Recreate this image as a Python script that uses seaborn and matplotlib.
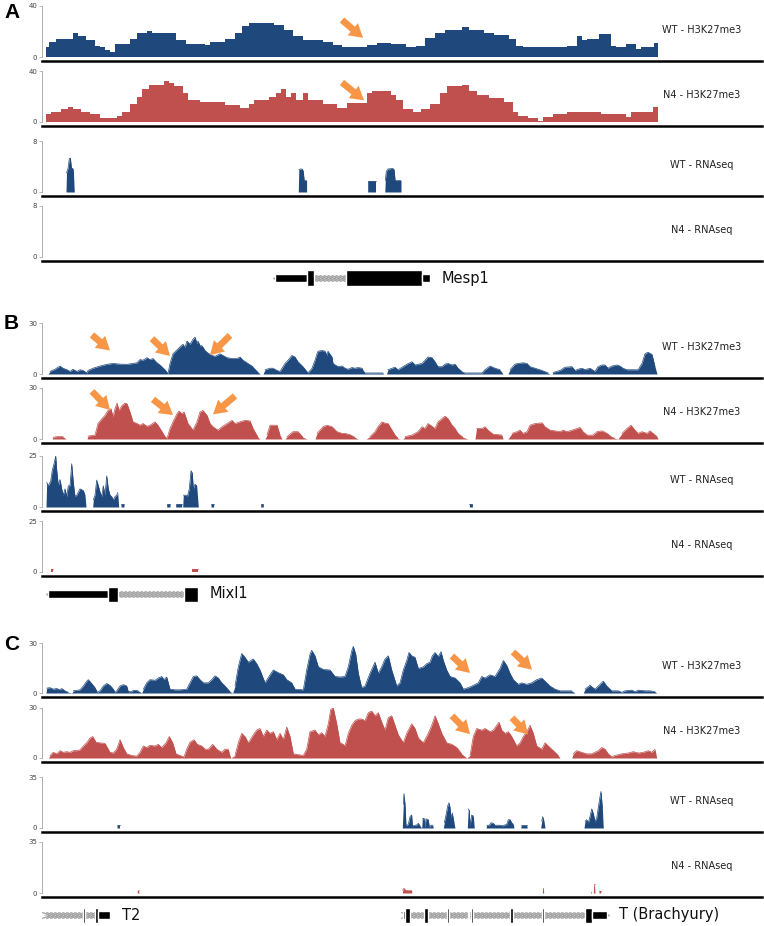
#!/usr/bin/env python3
"""Browser-style tracks: H3K27me3 ChIP and RNA-seq around Mesp1, Mixl1 and T."""

import numpy as np
import pandas as pd
import matplotlib
matplotlib.use("Agg")
import matplotlib.pyplot as plt
import matplotlib.transforms as mtransforms
from matplotlib import font_manager
import seaborn as sns

# ---------------------------------------------------------------- data
# positions are in browser window units (0 = left edge of the picture)

# panel A, stepped ChIP bins: edges + one value per bin
a_wt_k27_edges = [46, 49, 56, 73, 78, 86, 95, 100, 105, 110, 115, 130, 137, 147, 152,
                  176, 186, 205, 210, 225, 235, 242, 249, 257, 274, 284, 293, 303, 323,
                  333, 342, 367, 377, 391, 406, 416, 425, 435, 445, 462, 469, 484, 494,
                  509, 516, 523, 548, 567, 577, 582, 587, 599, 611, 616, 626, 636, 641,
                  654, 658]
a_wt_k27_vals = [8, 12, 14, 18.5, 16.5, 13, 9, 8, 5.5, 4, 10.5, 14, 19, 20.5, 18.5, 13,
                 10.5, 9.5, 12, 14.5, 19, 24, 27, 26.5, 25, 21.5, 16.5, 13, 12, 9.5, 8,
                 9.5, 11, 10, 7.5, 9, 15, 19, 21, 23.5, 21, 19, 17, 14.5, 9, 7.5, 8, 9,
                 16.5, 13, 14, 18, 9, 8, 10.5, 6.5, 8, 11]
a_n4_k27_edges = [46, 51, 61, 68, 73, 81, 90, 100, 117, 122, 130, 137, 142, 149, 164, 169,
                  174, 183, 188, 200, 225, 240, 249, 254, 269, 276, 281, 286, 291, 296,
                  303, 308, 323, 337, 347, 367, 372, 391, 396, 403, 413, 421, 430, 440,
                  447, 462, 469, 477, 489, 504, 513, 518, 528, 538, 543, 553, 567, 601,
                  626, 631, 653, 658]
a_n4_k27_vals = [6, 7.5, 10, 12, 10.5, 7.5, 6, 3, 5, 8, 14, 20, 26, 29, 32.5, 30.5, 28,
                 22.5, 17.5, 16, 13, 11, 14, 17.5, 20, 22.5, 25.5, 20, 22.5, 17.5, 23,
                 17.5, 14, 11, 15, 22.5, 24, 21, 17.5, 10, 7.5, 10, 14, 22.5, 28, 29, 24,
                 21, 19, 16, 7.5, 5, 3, 0.5, 4, 6, 8, 6, 4, 7.5, 12]
a_wt_rna = [(66, 0), (66.5, 3.0), (68, 3.7), (69.4, 5.3), (70.4, 5.3), (71.4, 3.8),
            (73.3, 3.6), (74.3, 0), (298.3, 0), (298.8, 3.5), (300.2, 3.6), (302.2, 3.6),
            (303.2, 3.3), (304.2, 1.8), (306.6, 1.8), (306.6, 0), (367.7, 0),
            (367.7, 1.75), (375.5, 1.75), (375.5, 0), (384.8, 0), (385.3, 1.8),
            (386.3, 3.2), (387.8, 3.6), (392.7, 3.7), (394.1, 3.5), (395.1, 1.8),
            (401, 1.8), (401, 0)]
a_n4_rna = []

# panel B
b_wt_k27 = [(48, 0), (50, 1.5), (55, 2.8), (60, 4.7), (63, 3.4), (67, 2.5), (70, 1.5),
            (73, 2.8), (77, 1.5), (80, 2.5), (83, 2.1), (87, 0.6), (88, 2.1), (93, 3.4),
            (100, 4.7), (107, 5.7), (113, 6.2), (120, 5.8), (127, 5.7), (133, 6.2),
            (137, 6.6), (140, 8.5), (143, 8.1), (147, 9.6), (150, 8.5), (153, 9.1),
            (157, 6.6), (160, 5.3), (165, 2.5), (168, 0.2), (170, 6.2), (173, 11.9),
            (177, 14.2), (180, 16), (183, 17.5), (185, 15.6), (187, 19.4), (190, 17.5),
            (193, 20.4), (195, 21.7), (197, 17.9), (198, 19.4), (200, 16.6), (202, 16.6),
            (205, 13.8), (208, 12.3), (212, 10.9), (215, 10.4), (220, 11.9), (223, 10.9),
            (227, 9.6), (232, 9.1), (237, 9.1), (240, 10), (243, 8.1), (248, 6.2),
            (253, 4.3), (260, 0), (263, 0), (265, 2.5), (270, 3.4), (273, 3.4), (277, 2.1),
            (280, 1.5), (285, 6.2), (288, 8.1), (292, 10.9), (295, 10), (298, 7.2),
            (303, 4.3), (308, 0.6), (312, 3.4), (315, 8.1), (317, 11.9), (318, 13.4),
            (322, 13.8), (325, 13.4), (327, 11), (328, 13.4), (332, 10), (333, 6.2),
            (338, 4.3), (342, 4.7), (345, 3.4), (348, 2.8), (352, 3.8), (355, 3.4),
            (358, 3.8), (362, 3.4), (363, 2.1), (365, 0.6), (383, 0.6), (383.5, 0),
            (386.5, 0), (388, 2.5), (392, 3.4), (395, 4), (398, 2.5), (403, 4.3),
            (407, 5.8), (412, 7.2), (415, 5.3), (422, 6.2), (425, 8.1), (428, 10),
            (432, 9.6), (435, 7.2), (438, 4.3), (442, 4.3), (445, 5.8), (448, 6.2),
            (452, 5.3), (455, 5.8), (458, 3.4), (463, 0.9), (465, 0.6), (482, 0.6),
            (485, 2.5), (490, 4.7), (495, 3.4), (500, 2.5), (503, 0), (508, 0), (510, 2.5),
            (515, 5.8), (518, 6.2), (523, 6.6), (527, 6.2), (530, 4.3), (535, 3.4),
            (542, 2.1), (548, 0.6), (550, 0), (552, 0), (553, 0.9), (560, 2.1), (565, 4),
            (572, 4.3), (575, 2.1), (578, 2.8), (582, 3.4), (585, 2.5), (590, 3.4),
            (595, 1.5), (598, 4.3), (602, 5.3), (605, 5.3), (608, 3.4), (612, 4.7),
            (617, 5.3), (620, 4.7), (623, 3.4), (627, 2.5), (638, 2.5), (642, 6.2),
            (645, 11.9), (648, 12.8), (652, 11.5), (655, 4.3), (657, 0)]
b_n4_k27 = [(52, 0), (53, 1), (57, 1.4), (63, 1.4), (66, 0), (87, 0), (88, 1.7), (95, 2.3),
            (98, 9.1), (102, 12), (105, 13.9), (108, 16.8), (111, 17.8), (113, 13),
            (115, 17.8), (117, 21.1), (119, 16.8), (122, 19.7), (125, 21.1), (127, 20.7),
            (130, 15.9), (133, 10.1), (137, 9.1), (140, 8.1), (143, 9.1), (147, 7.5),
            (150, 8.1), (155, 10.1), (158, 8.1), (162, 4.3), (165, 1.4), (167, 0.4),
            (170, 6.2), (173, 10.1), (177, 14.9), (179, 16.4), (182, 14.9), (184, 15.9),
            (188, 9.1), (193, 5.2), (197, 10.1), (200, 15.9), (203, 16.8), (207, 13.9),
            (210, 9.1), (213, 7.2), (218, 5.2), (222, 7.2), (227, 9.1), (232, 11),
            (235, 9.1), (240, 10.1), (245, 11), (250, 10.6), (253, 6.2), (258, 1), (260, 0),
            (265, 0), (267, 2.3), (270, 8.1), (277, 8.1), (280, 2.3), (282, 0), (285, 0),
            (287, 1.4), (293, 4.3), (298, 4.3), (303, 1), (307, 0), (315, 0), (317, 3.3),
            (323, 7.2), (327, 8.1), (332, 7.2), (337, 4.3), (342, 3.3), (345, 3.3),
            (350, 2.5), (355, 1), (358, 0), (366, 0), (370, 1.4), (375, 4.3), (378, 7.2),
            (382, 10.1), (384, 9.5), (388, 9.1), (391, 6.2), (395, 2.3), (398, 0.4),
            (400, 0), (403, 0), (405, 1.4), (412, 2.3), (418, 4.3), (422, 7.2), (425, 6.2),
            (428, 9.1), (432, 7.5), (435, 6.2), (438, 10.1), (442, 12), (445, 13.4),
            (448, 12), (452, 8.1), (455, 6.2), (458, 3.3), (463, 1), (468, 0), (475, 0),
            (476.5, 6.2), (482, 6.2), (485, 7.2), (488, 5.2), (493, 2.9), (502, 2.3),
            (503, 0), (508, 0), (512, 3.3), (517, 4.3), (520, 5.2), (523, 3.3), (527, 4.3),
            (530, 8.1), (535, 9.1), (542, 9.5), (545, 7.2), (550, 5.2), (555, 4.8),
            (560, 4.3), (563, 5.2), (567, 4.3), (572, 5.2), (577, 6.2), (580, 6.8),
            (583, 4.3), (587, 2.3), (593, 2.3), (597, 4.3), (602, 4.8), (607, 3.3),
            (612, 1), (615, 0.4), (618, 0), (622, 3.3), (627, 6.2), (631, 8.1), (635, 5.2),
            (638, 3.3), (642, 4.3), (647, 3.3), (650, 4.8), (653, 3.3), (657, 1.4),
            (658, 0)]
b_wt_rna = [(46, 0), (46.7, 12), (48.3, 10.4), (50.7, 12.7), (52.3, 18.1), (54, 21.2),
            (55.7, 25), (56.7, 18.1), (58.3, 10.4), (60, 13.5), (61.7, 8.9), (63.3, 5.8),
            (65, 8.9), (66.7, 5.1), (68.3, 10.4), (70, 10.4), (71.7, 21.2), (73.3, 12),
            (75, 5.1), (76.7, 5.8), (80, 8.9), (83.3, 8.1), (85, 5.8), (86, 0), (92.7, 0),
            (93.3, 3.5), (95, 5.8), (96.7, 13.2), (98.3, 10.4), (100, 7.4), (101.7, 5.1),
            (103.3, 10.4), (105, 5.8), (106.7, 15.3), (108.3, 8.9), (110, 5.8),
            (111.7, 5.1), (113.3, 3.5), (115, 5.1), (116.7, 5.8), (117.7, 7.1),
            (118.7, 0), (121, 0), (121, 1.5), (124, 1.5), (124, 0), (166.7, 0),
            (166.7, 1.5), (170, 1.5), (170, 0), (175.7, 0), (175.7, 1.5), (181.7, 1.5),
            (181.7, 0), (182.7, 0), (183.3, 5.8), (186, 5.8), (187.3, 5.1), (189.3, 8.9),
            (191, 17.8), (192.3, 16.6), (193.3, 8.9), (195, 11.2), (196.7, 10.4),
            (198.3, 0), (211, 0), (211, 1.5), (213.7, 1.5), (213.7, 0), (260.7, 0),
            (260.7, 1.5), (263.3, 1.5), (263.3, 0), (469.4, 0), (469.4, 1.5),
            (472.4, 1.5), (472.4, 0)]
b_n4_rna = [(50.7, 0), (50.7, 1.3), (52.7, 1.3), (52.7, 0), (192.3, 0), (192.3, 1.3),
            (198.3, 1.3), (198.3, 0)]

# panel C
c_wt_k27 = [(46, 0), (46.7, 2.9), (50, 3.2), (53.3, 2.3), (56.7, 2.7), (60, 1.9),
            (61.7, 2.7), (65, 1.3), (68.3, 0.4), (71.7, 0), (73.3, 1.3), (80, 1.9),
            (83.3, 4.2), (86.7, 7.1), (88.3, 8), (91.7, 5.7), (95, 3.2), (97.3, 0.4),
            (100, 1.3), (103.3, 4.2), (106.7, 5.7), (110, 4.6), (113.3, 2.3), (115, 0.4),
            (116.7, 1.3), (120, 4.2), (123.3, 5), (126.7, 4.2), (128.3, 0.8), (131.7, 0.8),
            (133.3, 1.7), (138.3, 1.3), (141.7, 0), (143.3, 2.3), (146.7, 6.1), (150, 8),
            (155, 7.6), (158.3, 9), (161.7, 9.9), (164, 8), (166.7, 9.6), (170, 2.3),
            (175, 1.9), (180, 1.9), (186.7, 2.3), (190, 6.1), (193.3, 9.9), (196.7, 10.3),
            (200, 8), (203.3, 6.1), (208.3, 6.1), (211.7, 8), (215, 10.3), (218.3, 9),
            (221.7, 6.1), (225, 4.2), (230, 0.8), (232.7, 0), (235, 4.2), (238.3, 15.7),
            (241.7, 23.7), (245, 21.4), (248.3, 18.5), (253.3, 20.4), (256.7, 17.6),
            (260, 13.8), (265, 6.1), (270, 10.9), (273.3, 13.8), (278.3, 12.2),
            (283.3, 10.9), (286.7, 8), (291.7, 6.1), (295, 2.3), (303.3, 1.9),
            (306.7, 13.8), (310, 23.3), (311.7, 25.6), (315, 22.3), (318.3, 15.7),
            (323.3, 14.1), (330, 13.8), (335, 9.9), (340, 9.6), (345, 9.9), (348.3, 15.7),
            (351.7, 25.2), (353.3, 28), (355.7, 23.3), (358.3, 11.8), (361.7, 3.2),
            (365, 4.2), (370, 11.8), (375, 18.5), (378.3, 11.8), (381.7, 15.7),
            (385, 20.4), (388.3, 22.3), (391.7, 13.8), (396.7, 4.2), (400, 6.1),
            (403.3, 13.8), (406.7, 19.5), (409, 24.3), (411.7, 22.3), (415, 21.4),
            (418.3, 14.7), (423.3, 15.7), (426.7, 17.6), (430, 18.5), (432.3, 22.3),
            (435, 24.3), (438.3, 21.8), (441, 24.8), (443.3, 19.5), (446.7, 13.8),
            (450, 9.9), (455, 9), (460, 6.1), (463.3, 2.3), (468.3, 3.2), (473.3, 4.6),
            (478.3, 6.1), (481.7, 9.9), (485, 9), (490, 10.9), (495, 9.9), (500, 14.7),
            (503.3, 19.5), (506.7, 16.6), (510, 11.8), (513.3, 8), (518.3, 5.2),
            (521.7, 6.1), (526.7, 5.2), (531.7, 6.1), (536.7, 8), (541.7, 9), (545, 7.1),
            (550, 4.2), (555, 2.3), (560, 1.3), (571.7, 1.3), (575, 0), (583.3, 0),
            (585, 2.3), (590, 4.6), (595, 2.3), (600, 5.2), (603.3, 7.1), (606.7, 4.2),
            (611.7, 1.3), (618.3, 1.3), (621.7, 0.4), (625, 1.3), (631.7, 1.7),
            (635, 0.8), (638.3, 1.7), (645, 1.3), (650, 1.3), (655, 0.8), (656.7, 0)]
c_n4_k27 = [(48.3, 0), (50, 1.5), (53.3, 3.4), (56.7, 2.5), (60, 4.4), (63.3, 3.4),
            (66.7, 3.8), (70, 3.4), (73.3, 4.4), (76.7, 4.4), (80, 4.9), (83.3, 7.2),
            (86.7, 9.1), (90, 12), (92.7, 12.9), (96, 9.5), (100, 9.1), (105, 8.7),
            (110, 3.4), (113.3, 3), (116.7, 5.3), (120, 11), (123.3, 6.3), (126.7, 2.5),
            (131.7, 1.5), (136.7, 1.1), (140, 3.4), (143.3, 7.2), (146.7, 6.3), (150, 7.6),
            (155, 7.2), (158.3, 8.2), (161.7, 6.3), (166, 9.1), (169.3, 12.9), (172.7, 9.1),
            (176, 2.5), (180, 1.5), (184, 0.6), (186.7, 5.3), (190, 9.5), (194, 11),
            (197.3, 8.2), (201.7, 7.2), (205, 5.3), (208.3, 5.3), (212.7, 8.2),
            (216.7, 5.3), (221.7, 3.4), (225, 5.3), (228.3, 5.3), (230.7, 0), (235, 1.5),
            (238.3, 9.1), (241.7, 14.8), (245, 12.9), (248.3, 9.1), (253.3, 13.9),
            (256.7, 16.7), (260, 17.7), (263.3, 12.9), (266.7, 16.7), (270, 14.8),
            (273.3, 15.8), (276.7, 11), (280, 14.8), (283.3, 11), (286.7, 18.6), (290, 12.9),
            (293.3, 2.5), (303.3, 1.5), (306.7, 5.3), (310, 15.8), (315, 16.7),
            (318.3, 13.9), (321.7, 15.2), (325, 12.9), (328.3, 20.5), (330.7, 29.1),
            (333.3, 30), (336.7, 20.5), (340, 9.1), (343.3, 8.2), (345, 7.2),
            (348.3, 14.8), (351.7, 19.6), (355, 22.4), (358.3, 23.4), (361.7, 23.4),
            (365, 22.4), (368.3, 27.2), (371.7, 28.1), (375, 25.3), (378.3, 27.2),
            (381.7, 21.5), (385, 16.7), (388.3, 24.3), (391.7, 25.3), (395, 19.6),
            (398.3, 13.9), (403.3, 9.1), (406.7, 14.8), (411.7, 20.5), (415, 17.7),
            (418.3, 12), (423.3, 9.1), (428.3, 14.8), (432.3, 20.5), (435, 25.3),
            (438.3, 20.5), (441.7, 14.8), (446.7, 9.1), (451.7, 8.2), (456.7, 6.3),
            (461.7, 2.5), (466.7, 0), (470, 1.5), (473.3, 12.9), (476.7, 17.7),
            (481.7, 16.7), (485, 17.7), (490, 15.8), (493.3, 16.7), (496.7, 19.6),
            (499, 21.5), (501.7, 16.7), (505, 14.8), (508.3, 15.8), (511.7, 12.9),
            (516.7, 7.2), (520, 9.1), (523.3, 12.9), (527.7, 16.7), (530, 19.6),
            (533.3, 14.8), (536.7, 7.2), (541.7, 5.3), (545, 9.1), (548.3, 7.2),
            (553.3, 4.4), (558.3, 1.5), (560, 0), (571.7, 0), (573.3, 2.5), (576.7, 4.4),
            (581.7, 3.4), (586.7, 2.5), (591.7, 2.5), (598.3, 4.4), (601.7, 6.3),
            (605, 5.3), (608.3, 2.5), (611.7, 0.6), (615, 1.5), (621.7, 2.5), (628.3, 3),
            (633.3, 3.8), (638.3, 3), (643.3, 3.4), (648.3, 4.4), (651.7, 3.4), (655, 5.3),
            (656.7, 0)]
c_wt_rna = [(117, 0), (117, 2), (119.5, 2), (119.5, 0), (402.3, 0), (403.3, 16.2),
            (404, 23.6), (405, 16.2), (406, 1.5), (408.3, 2.5), (410, 7.8), (411.7, 8.9),
            (412.3, 1.5), (416.7, 2.1), (418.3, 3.2), (420, 1.5), (421.7, 0), (422.3, 6.1),
            (424, 6.8), (425, 0.4), (426, 6.3), (428.3, 5.7), (429.3, 0.4), (430.7, 1.9),
            (432.7, 1.9), (433.3, 0), (443.3, 0), (444.3, 3.6), (446, 8.9), (447.7, 15.2),
            (449, 17.3), (450, 14.1), (451, 6.8), (452.3, 10.3), (454, 3.6), (455, 0),
            (467.3, 0), (468.3, 13.1), (469.3, 12), (470, 1.5), (471.7, 8.9), (473.3, 8.2),
            (474.3, 0), (486, 0), (486.7, 1.9), (489.3, 1.9), (491, 3.6), (493.3, 3.2),
            (495, 1.9), (500, 1.9), (502.7, 1.5), (504, 1.9), (506.7, 2.5), (508.3, 5.7),
            (510, 5.7), (511.7, 3.6), (513.3, 2.5), (514, 0), (520.7, 0), (521.3, 1.9),
            (526.7, 1.9), (527.3, 0), (540.7, 0), (541.7, 4.6), (542.7, 7.8), (544, 4.6),
            (545, 0), (584, 0), (585, 4.6), (586.7, 5.7), (588.3, 3.6), (590, 7.8),
            (591.7, 13.1), (593.3, 9.9), (595, 4.6), (596.7, 6.8), (598.3, 14.1),
            (600, 21.5), (601, 25.1), (602.3, 14.1), (603.3, 0)]
c_n4_rna = [(137, 0), (137.5, 1.8), (138.5, 1.8), (139, 0), (402.3, 0), (402.7, 1.7),
            (404, 3.2), (405.3, 2.1), (406.7, 1.7), (411.7, 1.7), (411.7, 0), (542.3, 0),
            (542.7, 3.8), (543.3, 3.8), (543.7, 0), (590.5, 0), (591, 1.7), (591.5, 0),
            (593.3, 0), (593.8, 6), (594.5, 6), (595, 0), (599, 0), (599, 1.7),
            (600.7, 1.7), (600.7, 0)]

# arrows marking changed regions: (tail, head) in track units
a_arrows = [[((342, 29), (363, 15))], [((342, 31), (364, 17))]]
b_arrows = [[((92, 23), (110, 13.8)), ((152, 20.8), (170, 10.6)), ((230, 22.7), (210, 11.1))],
            [((92, 28), (110, 17.1)), ((153, 23.3), (173, 14.1)), ((235, 25.3), (213, 14.5))]]
c_arrows = [[((452, 22.2), (470, 12)), ((513, 24.6), (532, 14))],
            [((452, 25.3), (470, 14.3)), ((512, 24.1), (528, 14.1))]]

# gene models: (start, end, part)
mesp1_exons = [(275, 307, "utr"), (307, 314, "cds"), (346, 422, "cds"), (422, 430, "utr")]
mixl1_exons = [(48, 108, "utr"), (108, 118, "cds"), (184, 198, "cds")]
t2_exons = [(83, 85, "cds"), (95, 98, "cds"), (98, 110, "utr")]
t_exons = [(403, 405, "utr"), (405, 410, "cds"), (424, 428, "cds"), (447, 449, "cds"),
           (468, 469.3, "cds"), (471, 472.5, "cds"), (510, 513, "cds"),
           (542, 544, "cds"), (585, 592, "cds"), (592, 607, "utr")]

track_labels = ["WT - H3K27me3", "N4 - H3K27me3", "WT - RNAseq", "N4 - RNAseq"]

# ---------------------------------------------------------------- style
WT_BLUE = "#1F497D"
N4_RED = "#C0504D"
ARROW = "#F79646"
W, H = 764, 926
X0, X1 = 42, 762

sns.set_theme(style="white")
installed = {f.name for f in font_manager.fontManager.ttflist}
bold_font = "Liberation Sans" if "Liberation Sans" in installed else "DejaVu Sans"
plt.rcParams["font.family"] = ["DejaVu Sans"]

panels = [
    dict(letter="A", letter_y=3, tops=[(6, 61), (71, 126), (141, 196), (206, 261)],
         ymax=[40, 40, 8, 8], tracks=[("step", a_wt_k27_edges, a_wt_k27_vals),
                                       ("step", a_n4_k27_edges, a_n4_k27_vals),
                                       ("area", a_wt_rna), ("area", a_n4_rna)],
         arrows=a_arrows, gene_y=278,
         genes=[("Mesp1", "-", 275, 430, mesp1_exons)]),
    dict(letter="B", letter_y=314, tops=[(323, 378), (388, 443), (456, 511), (521, 576)],
         ymax=[30, 30, 25, 25], tracks=[("area", b_wt_k27), ("area", b_n4_k27),
                                       ("area", b_wt_rna), ("area", b_n4_rna)],
         arrows=b_arrows, gene_y=594,
         genes=[("Mixl1", "-", 48, 198, mixl1_exons)]),
    dict(letter="C", letter_y=635, tops=[(643, 697), (708, 762), (777, 832), (842, 897)],
         ymax=[30, 30, 35, 35], tracks=[("area", c_wt_k27), ("area", c_n4_k27),
                                       ("area", c_wt_rna), ("area", c_n4_rna)],
         arrows=c_arrows, gene_y=915,
         genes=[("T2", "+", 44, 110, t2_exons),
                ("T (Brachyury)", "+", 403, 607, t_exons)]),
]

fig = plt.figure(figsize=(W / 100, H / 100), dpi=100)


def px_axes(top, bottom):
    return fig.add_axes([X0 / W, 1 - bottom / H, (X1 - X0) / W, (bottom - top) / H])


def covered_runs(pairs):
    """Split a coverage profile into runs of non-zero signal for the outline."""
    rows, run = [], 0
    for pos, val in pairs:
        if val > 0:
            rows.append((pos, val, run))
        else:
            run += 1
    return pd.DataFrame(rows, columns=["pos", "signal", "run"])


def style_track(ax, ymax, label, height_px):
    pad = ymax * 4 / (height_px - 4)
    ax.set_xlim(X0, X1)
    ax.set_ylim(-pad, ymax)
    ax.set_xlabel("")
    ax.set_ylabel("")
    for side in ("top", "right"):
        ax.spines[side].set_visible(False)
    ax.spines["bottom"].set_color("black")
    ax.spines["bottom"].set_linewidth(1.8)
    ax.spines["left"].set_color("#a0a0a0")
    ax.spines["left"].set_linewidth(0.6)
    ax.spines["left"].set_bounds(0, ymax)
    ax.set_xticks([])
    ax.set_yticks([0, ymax])
    ax.set_yticklabels(["0", str(ymax)])
    ax.tick_params(axis="y", left=True, length=2.5, width=0.5, color="#a0a0a0",
                   labelsize=5, labelcolor="#444444", pad=1)
    trans = mtransforms.blended_transform_factory(ax.transData, ax.transAxes)
    ax.text(702, 0.57, label, transform=trans, ha="center", va="center",
            fontsize=7, color="#222222")


for panel in panels:
    fig.text(4 / W, 1 - panel["letter_y"] / H, panel["letter"], fontsize=15,
             fontweight="bold", family=bold_font, va="top", ha="left", color="black")
    for i, (top, base) in enumerate(panel["tops"]):
        ax = px_axes(top, base)
        color = WT_BLUE if i % 2 == 0 else N4_RED
        track = panel["tracks"][i]
        if track[0] == "step":
            edges = [float(e) for e in track[1]]
            bins = pd.DataFrame({"pos": [(a + b) / 2 for a, b in zip(edges[:-1], edges[1:])],
                                 "signal": [float(v) for v in track[2]]})
            sns.histplot(data=bins, x="pos", weights="signal", bins=edges, element="step",
                         fill=True, color=color, alpha=1, linewidth=0, ax=ax)
        elif track[1]:
            xs = [p[0] for p in track[1]]
            ys = [p[1] for p in track[1]]
            ax.fill_between(xs, ys, 0, color=color, linewidth=0)
            runs = covered_runs(track[1])
            sns.lineplot(data=runs, x="pos", y="signal", units="run", ax=ax, color=color,
                         linewidth=0.5, estimator=None, sort=False)
        style_track(ax, panel["ymax"][i], track_labels[i], base - top)
        if i < 2:
            for tail, head in panel["arrows"][i]:
                ax.annotate("", xy=head, xytext=tail,
                            arrowprops=dict(arrowstyle="simple,head_length=0.8,"
                                                       "head_width=0.95,tail_width=0.4",
                                            color=ARROW, lw=0, shrinkA=0, shrinkB=0))

    gy = panel["gene_y"]
    gax = px_axes(gy - 12, gy + 12)
    gax.set_xlim(X0, X1)
    gax.set_ylim(-12, 12)
    gax.axis("off")
    for name, strand, start, end, exons in panel["genes"]:
        gax.plot([start, end], [0, 0], color="#c8c8c8", lw=0.6, zorder=1)
        chev = np.arange(start + 2, end - 1, 4.0)
        gax.plot(chev, np.zeros_like(chev), ls="none",
                 marker="$<$" if strand == "-" else "$>$", ms=6,
                 color="#9a9a9a", mew=0.1, zorder=2)
        for s, e, part in exons:
            gax.barh(0, width=e - s, left=s, height=15 if part == "cds" else 8,
                     color="black", zorder=3)
        gax.text(end + 12, 0, name, va="center", ha="left", fontsize=10.5,
                 color="#111111")

fig.savefig("out.png", dpi=100)
